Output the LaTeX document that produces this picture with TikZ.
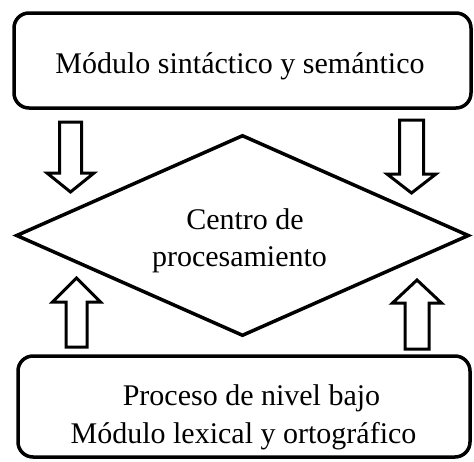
\documentclass[tikz,border=0pt]{standalone}
\usepackage{fontspec}
\setmainfont{Liberation Serif}
\usetikzlibrary{shapes.geometric}
\tikzset{
  box/.style={draw, line width=3.5pt, rounded corners=15pt, inner sep=0pt},
  centre/.style={draw, shape=diamond, line width=3.5pt, inner sep=0pt},
  blockarrow/.style={draw, line width=3pt, line join=miter, fill=white},
  lbl/.style={anchor=base, inner sep=0pt, font=\fontsize{30}{36}\selectfont}
}
% \blockarr{name}{cx}{tail y}{head base y}{tip y}{shaft half}{head half}
\newcommand{\blockarr}[7]{%
  \draw[blockarrow] (#2-#6,#3) coordinate (#1-tail) -- (#2+#6,#3) -- (#2+#6,#4) -- (#2+#7,#4)
    -- (#2,#5) coordinate (#1-tip) -- (#2-#7,#4) -- (#2-#6,#4) -- cycle;}
\begin{document}
\begin{tikzpicture}[x=1pt,y=-1pt]
\useasboundingbox (0,0) rectangle (474,461);
\node[box, minimum width=457pt, minimum height=95pt] (top) at (242.5,60.5) {};
\node[box, minimum width=452pt, minimum height=101pt] (bot) at (244,406.5) {};
\node[centre, minimum width=453pt, minimum height=201pt] (proc) at (242.5,235.5) {};
\node[lbl] (ttop) at (240,73) {Módulo sintáctico y semántico};
\node[lbl] (tc1) at (245,229) {Centro de};
\node[lbl] (tc2) at (239.5,266) {procesamiento};
\node[lbl] (tb1) at (251.5,405) {Proceso de nivel bajo};
\node[lbl] (tb2) at (243.5,443) {Módulo lexical y ortográfico};
\blockarr{a1}{70.5}{122}{173}{192}{11}{23.5}
\blockarr{a3}{411.5}{120}{174}{193}{12}{24.5}
\blockarr{a2}{76.5}{347}{302}{278}{10.5}{24}
\blockarr{a4}{417}{349}{303}{280}{12}{24.5}
\end{tikzpicture}
\end{document}
